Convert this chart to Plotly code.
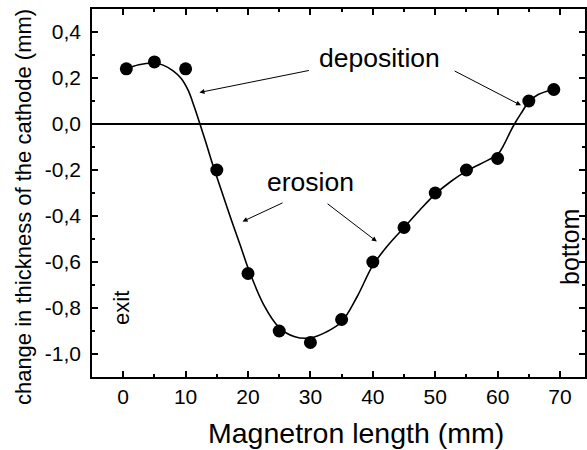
import plotly.graph_objects as go

# measured points
x_pts = [0.5, 5, 10, 15, 20, 25, 30, 35, 40, 45, 50, 55, 60, 65, 69]
y_pts = [0.24, 0.27, 0.24, -0.20, -0.65, -0.90, -0.95, -0.85, -0.60, -0.45, -0.30, -0.20, -0.15, 0.10, 0.15]

# fitted curve
x_fit = [0.5, 2.5, 5, 6.4, 8.0, 9.3, 10.4, 11.4, 12.3, 13.3, 14.3, 15.1, 16.3, 17.5, 18.8, 20, 22.5,
         25, 27.5, 30, 32.5, 35, 37.5, 40, 42.5, 45, 47.5, 50, 52.5, 55, 57.5, 60, 61.1, 62.0,
         62.7, 63.75, 65, 66.5, 69]
y_fit = [0.24, 0.258, 0.265, 0.256, 0.231, 0.198, 0.147, 0.074, 0.0, -0.085, -0.173, -0.238, -0.335,
         -0.43, -0.53, -0.625, -0.785, -0.885, -0.925, -0.93, -0.905, -0.86, -0.75, -0.615, -0.525,
         -0.45, -0.375, -0.305, -0.25, -0.205, -0.17, -0.132, -0.085, -0.035, 0.0, 0.046, 0.096,
         0.128, 0.15]

y_tickvals = [-1.0, -0.8, -0.6, -0.4, -0.2, 0.0, 0.2, 0.4]
y_ticktext = ["-1,0", "-0,8", "-0,6", "-0,4", "-0,2", "0,0", "0,2", "0,4"]
x_tickvals = [0, 10, 20, 30, 40, 50, 60, 70]

FONT = "Liberation Sans, Arial, sans-serif"

fig = go.Figure()
fig.add_trace(go.Scatter(x=x_fit, y=y_fit, mode="lines",
                         line=dict(color="black", width=1.6, shape="spline", smoothing=1.0),
                         hoverinfo="skip", showlegend=False))
fig.add_trace(go.Scatter(x=x_pts, y=y_pts, mode="markers",
                         marker=dict(color="black", size=13), showlegend=False))

arrows = [
    # (head_x, head_y, tail_x, tail_y)
    (12.22, 0.137, 30.0, 0.234),
    (63.75, 0.081, 52.86, 0.234),
    (19.12, -0.424, 25.77, -0.340),
    (40.64, -0.511, 32.51, -0.342),
]
for hx, hy, tx, ty in arrows:
    fig.add_annotation(x=hx, y=hy, ax=tx, ay=ty, xref="x", yref="y", axref="x", ayref="y",
                       text="", showarrow=True, arrowhead=2, arrowsize=1.0, arrowwidth=1,
                       arrowcolor="black")

fig.add_annotation(x=41.0, y=0.288, xref="x", yref="y", text="deposition", showarrow=False,
                   font=dict(family=FONT, size=26.5, color="black"), xanchor="center", yanchor="middle")
fig.add_annotation(x=30.07, y=-0.254, xref="x", yref="y", text="erosion", showarrow=False,
                   font=dict(family=FONT, size=26.5, color="black"), xanchor="center", yanchor="middle")
fig.add_annotation(x=-0.37, y=-0.80, xref="x", yref="y", text="exit", showarrow=False, textangle=-90,
                   font=dict(family=FONT, size=22, color="black"), xanchor="center", yanchor="middle")
fig.add_annotation(x=71.5, y=-0.533, xref="x", yref="y", text="bottom", showarrow=False, textangle=-90,
                   font=dict(family=FONT, size=25, color="black"), xanchor="center", yanchor="middle")

# axis titles
fig.add_annotation(x=-0.139, y=0.463, xref="paper", yref="paper", text="change in thickness of the cathode (mm)",
                   showarrow=False, textangle=-90, font=dict(family=FONT, size=22, color="black"),
                   xanchor="center", yanchor="middle")
fig.add_annotation(x=0.535, y=-0.152, xref="paper", yref="paper", text="Magnetron length (mm)",
                   showarrow=False, font=dict(family=FONT, size=28.5, color="black"),
                   xanchor="center", yanchor="middle")

axis_common = dict(showline=True, linecolor="black", linewidth=1.5, mirror="ticks", ticks="inside",
                   tickcolor="black", tickwidth=1.5, ticklen=6, showgrid=False,
                   tickfont=dict(family=FONT, size=21, color="black"))

fig.update_xaxes(range=[-5, 74], tickvals=x_tickvals, zeroline=False,
                 minor=dict(dtick=5, tick0=0, ticks="inside", ticklen=3, tickcolor="black", tickwidth=1.5),
                 **axis_common)
fig.update_yaxes(range=[-1.1, 0.5], tickvals=y_tickvals, ticktext=y_ticktext, zeroline=True,
                 zerolinecolor="black", zerolinewidth=1.5, ticklabelstandoff=5,
                 minor=dict(dtick=0.1, tick0=0, ticks="inside", ticklen=3, tickcolor="black", tickwidth=1.5),
                 **axis_common)

fig.update_layout(width=587, height=450, margin=dict(l=92, r=0, t=9, b=73),
                  paper_bgcolor="white", plot_bgcolor="white", showlegend=False)

fig.write_html("out.html")
